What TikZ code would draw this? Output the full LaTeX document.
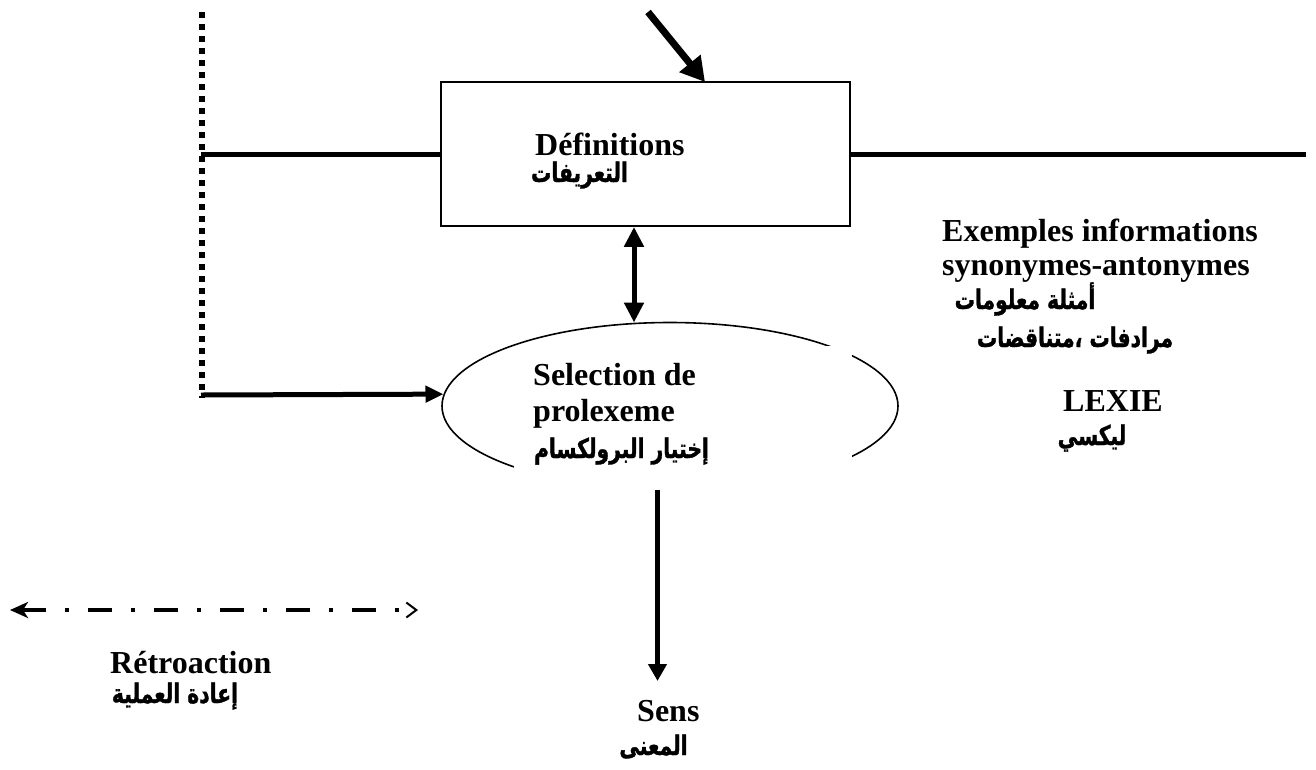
\documentclass[tikz,border=0pt]{standalone}
\usepackage{fontspec}
\setmainfont{Liberation Serif}
\newfontfamily\arabicfont[Script=Arabic, FakeStretch=0.75, FakeBold=1.2]{DejaVu Sans}
\TeXXeTstate=1
\usetikzlibrary{arrows.meta,shapes.geometric}

\tikzset{
  lat/.style={font=\fontsize{32}{34}\selectfont\bfseries, inner sep=0pt, anchor=base west},
  ara/.style={font=\fontsize{27}{30}\selectfont\arabicfont\bfseries, inner sep=0pt, anchor=base},
  heavy/.style={line width=5pt},
  thin frame/.style={draw, line width=1.8pt},
  headA/.style={-{Triangle[width=18pt,length=17pt]}},
}

\begin{document}
\begin{tikzpicture}[x=1pt,y=-1pt]
  \fill[white] (0,0) rectangle (1316,769);
  \useasboundingbox (0,0) rectangle (1316,769);

  % main boxes
  \node[thin frame, rectangle, minimum width=409pt, minimum height=144pt, inner sep=0pt] (def) at (645.5,154) {};
  \node[thin frame, ellipse, minimum width=456pt, minimum height=167pt, inner sep=0pt, line width=1.6pt] (sel) at (670,406) {};
  % white text frame laid over the ellipse
  \fill[white] (514,346) rectangle (852,492);

  % coordinates for free ends
  \coordinate (dtop) at (201.5,12);
  \coordinate (dbot) at (201.5,398);
  \coordinate (hl) at (201,154);
  \coordinate (hr) at (1306,154);
  \coordinate (fbl) at (201,395);
  \coordinate (intop) at (648,12);
  \coordinate (inend) at (705,82);
  \coordinate (senstop) at (657.5,490);
  \coordinate (sensend) at (657.5,681);
  \coordinate (rl) at (10,610);
  \coordinate (rr) at (418,610);

  % feedback dotted line
  \draw[line width=6pt, dash pattern=on 6pt off 6pt] (dtop) -- (dbot);
  % horizontal line through the definitions box
  \draw[heavy] (hl) -- (def.west);
  \draw[heavy] (def.east) -- (hr);
  % input arrow
  \draw[line width=7pt, -{Triangle[width=26pt,length=24pt]}] (intop) -- (inend);
  % definitions <-> selection
  \draw[heavy, {Triangle[width=19pt,length=20pt]}-{Triangle[width=19pt,length=20pt]}] (def.south -| 634,0) -- (634,322.5);
  % feedback into selection
  \draw[heavy, -{Triangle[width=16pt,length=18pt]}] (fbl) -- (sel.177);
  % selection -> sens
  \draw[heavy, headA] (senstop) -- (sensend);
  % legend arrow
  \draw[line width=4.5pt, dash pattern=on 24pt off 19pt on 4pt off 19pt,
        {Stealth[length=18pt,width=16pt,inset=5pt]}-{Straight Barb[length=10pt,width=15pt,line width=2pt]}] (rl) -- (rr);

  % texts
  \node[lat] (tdef) at (535,155) {Définitions};
  \node[ara] (adef) at (579.5,182) {\beginR التعريفات\endR};

  \node[lat] (tsel1) at (533,385) {Selection de};
  \node[lat] (tsel2) at (533,421) {prolexeme};
  \node[ara] (asel) at (621.5,458) {\beginR إختيار البرولكسام\endR};

  \node[lat] (tex1) at (942,241) {Exemples informations};
  \node[lat] (tex2) at (942,275) {synonymes-antonymes};
  \node[ara] (aex1) at (1025,309) {\beginR أمثلة معلومات\endR};
  \node[ara] (aex2) at (1075,347) {\beginR مرادفات ،متناقضات\endR};

  \node[lat] (tlex) at (1063,411) {LEXIE};
  \node[ara] (alex) at (1092,445) {\beginR ليكسي\endR};

  \node[lat] (tret) at (110,673) {Rétroaction};
  \node[ara] (aret) at (175,703) {\beginR إعادة العملية\endR};

  \node[lat] (tsens) at (637,721) {Sens};
  \node[ara] (asens) at (653.5,755) {\beginR المعنى\endR};
\end{tikzpicture}
\end{document}
